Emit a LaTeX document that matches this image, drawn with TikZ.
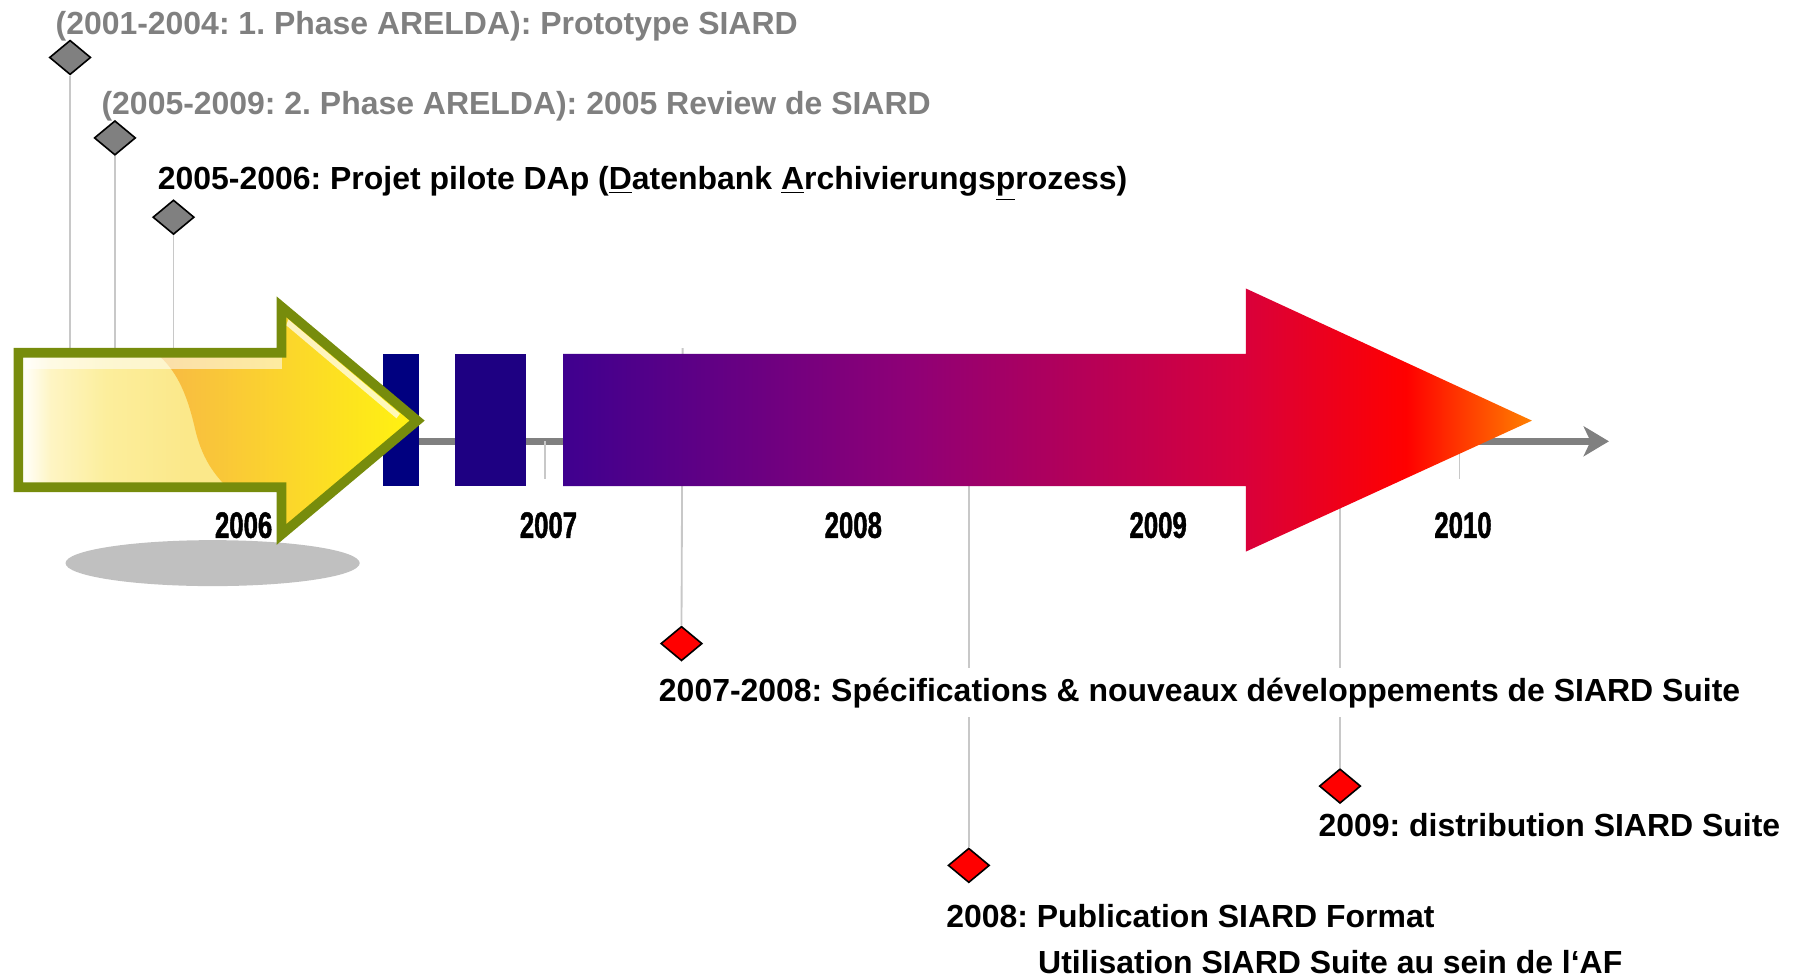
\documentclass[tikz,border=0pt]{standalone}
\usepackage{fontspec}
\setmainfont{Liberation Sans}
\newfontfamily\yearfont[FakeStretch=0.7, FakeBold=1.2]{Liberation Sans}
\usetikzlibrary{arrows.meta,shapes.geometric}
\frenchspacing

\definecolor{olivearrow}{HTML}{778C0C}
\definecolor{phasegray}{HTML}{808080}
\definecolor{stemgray}{HTML}{C8C8C8}
\definecolor{shadowgray}{HTML}{C0C0C0}
\definecolor{navybar}{HTML}{000080}
\definecolor{indigobar}{HTML}{1E0082}
\definecolor{tlindigo}{HTML}{3F008F}
\definecolor{tlplum}{HTML}{8F0076}
\definecolor{tlcrimson}{HTML}{D8003C}
\definecolor{tlred}{HTML}{FF0000}
\definecolor{tlorange}{HTML}{FF8000}
\definecolor{sunwhite}{HTML}{FFFEF6}
\definecolor{sunpale}{HTML}{FEF5C4}
\definecolor{sunlight}{HTML}{FCEE9C}
\definecolor{sunbase}{HTML}{FBE88A}
\definecolor{sunorange}{HTML}{F8BC42}
\definecolor{sunmid}{HTML}{FBD52C}
\definecolor{sunyellow}{HTML}{FFF012}

\pgfdeclarehorizontalshading{timelineshade}{100bp}{%
  color(0bp)=(tlindigo); color(25bp)=(tlindigo); color(43bp)=(tlplum);
  color(60bp)=(tlcrimson); color(68.5bp)=(tlred); color(75bp)=(tlorange);
  color(100bp)=(tlorange)}
\pgfdeclarehorizontalshading{sunleftshade}{100bp}{%
  color(0bp)=(sunwhite); color(26bp)=(sunwhite); color(29bp)=(sunpale);
  color(36bp)=(sunlight); color(46bp)=(sunbase); color(100bp)=(sunbase)}
\pgfdeclarehorizontalshading{sunrightshade}{100bp}{%
  color(0bp)=(sunorange); color(29bp)=(sunorange); color(50bp)=(sunmid);
  color(72bp)=(sunyellow); color(100bp)=(sunyellow)}

\tikzset{
  milestone/.style = {diamond, draw=black, line width=0.7pt, inner sep=0pt,
    minimum width=18pt, minimum height=15pt},
  ms_phase/.style = {milestone, fill=phasegray},% phase ARELDA
  ms_suite/.style = {milestone, fill=red},% SIARD Suite
  stem/.style = {stemgray, line width=0.8pt},
  eventtext/.style = {anchor=base west, inner sep=0pt,
    font=\fontsize{13.9}{16}\selectfont\bfseries},
  eventmask/.style = {eventtext, fill=white, inner ysep=4pt},% coupe les traits
  yearlabel/.style = {anchor=base, inner sep=0pt,
    font=\yearfont\fontsize{16}{18}\selectfont\bfseries}
}

\begin{document}
\begin{tikzpicture}[x=0.5pt, y=-0.5pt]
\useasboundingbox (0,0) rectangle (1568,851);

% ombre + axe
\fill[shadowgray] (185,490) ellipse [x radius=128, y radius=20];
\draw[phasegray, line width=2.8pt, -{Stealth[length=11pt, width=13pt, inset=3pt]}]
  (200,384) -- (1400,384);
\foreach \yr [count=\i from 0] in {2006,...,2010} {
  \draw[stem] (209+265.25*\i,384) -- ++(0,33);
  \node[yearlabel] (y\yr) at (212+265.25*\i,468) {\yr};
}

% jalons
\node[ms_phase] (ms_proto) at (61,50) {};
\node[ms_phase] (ms_review) at (100,120) {};
\node[ms_phase] (ms_dap) at (151,189) {};
\node[ms_suite] (ms_spec) at (593,560) {};
\node[ms_suite] (ms_pub) at (843,753) {};
\node[ms_suite] (ms_distrib) at (1166,684) {};

\coordinate (proto_foot) at (61,330);
\coordinate (review_foot) at (100,330);
\coordinate (dap_foot) at (151,330);
\coordinate (spec_top) at (594,303);
\coordinate (pub_top) at (843,384);
\coordinate (distrib_top) at (1166,384);

\draw[stem] (ms_proto.south) -- (proto_foot);
\draw[stem] (ms_review.south) -- (review_foot);
\draw[stem] (ms_dap.south) -- (dap_foot);
\draw[stem] (spec_top) -- (ms_spec.north);
\draw[stem] (pub_top) -- (ms_pub.north);
\draw[stem] (distrib_top) -- (ms_distrib.north);

% barres et grande fleche
\fill[navybar] (333,308) rectangle (365,423);
\fill[indigobar] (396,308) rectangle (458,423);
\shade[shading=timelineshade] (490,308) -- (1084,308) -- (1084,251)
  -- (1333,366) -- (1084,480) -- (1084,423) -- (490,423) -- cycle;

% fleche jaune
\coordinate (s1) at (16,307);
\coordinate (s2) at (245,307);
\coordinate (s3) at (245,267);
\coordinate (s4) at (363,366);
\coordinate (s5) at (245,465);
\coordinate (s6) at (245,424);
\coordinate (s7) at (16,424);
\shade[shading=sunleftshade] (s1) -- (s2) -- (s3) -- (s4) -- (s5) -- (s6) -- (s7) -- cycle;
\begin{scope}
  \clip (s1) -- (s2) -- (s3) -- (s4) -- (s5) -- (s6) -- (s7) -- cycle;
  \clip (130,250) -- (130,300) -- (140,311) .. controls (155,325) and (163,345) .. (169,370)
    .. controls (175,398) and (186,414) .. (204,430) -- (204,480) -- (370,480)
    -- (370,250) -- cycle;
  \shade[shading=sunrightshade] (130,250) rectangle (365,480);
\end{scope}
\fill[white, opacity=0.55] (22,311) rectangle (245,321);
\fill[white, opacity=0.7] (251,278) -- (348,360) -- (345,364) -- (249,283) -- cycle;
\draw[olivearrow, line width=4.2pt] (s1) -- (s2) -- (s3) -- (s4) -- (s5) -- (s6) -- (s7) -- cycle;

% textes
\node[eventtext, phasegray] (t_proto) at (48,30)
  {(2001-2004: 1. Phase ARELDA): Prototype SIARD};
\node[eventtext, phasegray] (t_review) at (88,100)
  {(2005-2009: 2. Phase ARELDA): 2005 Review de SIARD};
\node[eventtext] (t_dap) at (137,165)
  {2005-2006: Projet pilote DAp (\underline{D}atenbank \underline{A}rchivierungs\underline{p}rozess)};
\node[eventmask] (t_spec) at (573,610)
  {2007-2008: Spécifications \& nouveaux développements de SIARD Suite};
\node[eventtext] (t_distrib) at (1147,728) {2009: distribution SIARD Suite};
\node[eventtext] (t_pub) at (823,807) {2008: Publication SIARD Format};
\node[eventtext] (t_af) at (903,847) {Utilisation SIARD Suite au sein de l‘AF};
\end{tikzpicture}
\end{document}
